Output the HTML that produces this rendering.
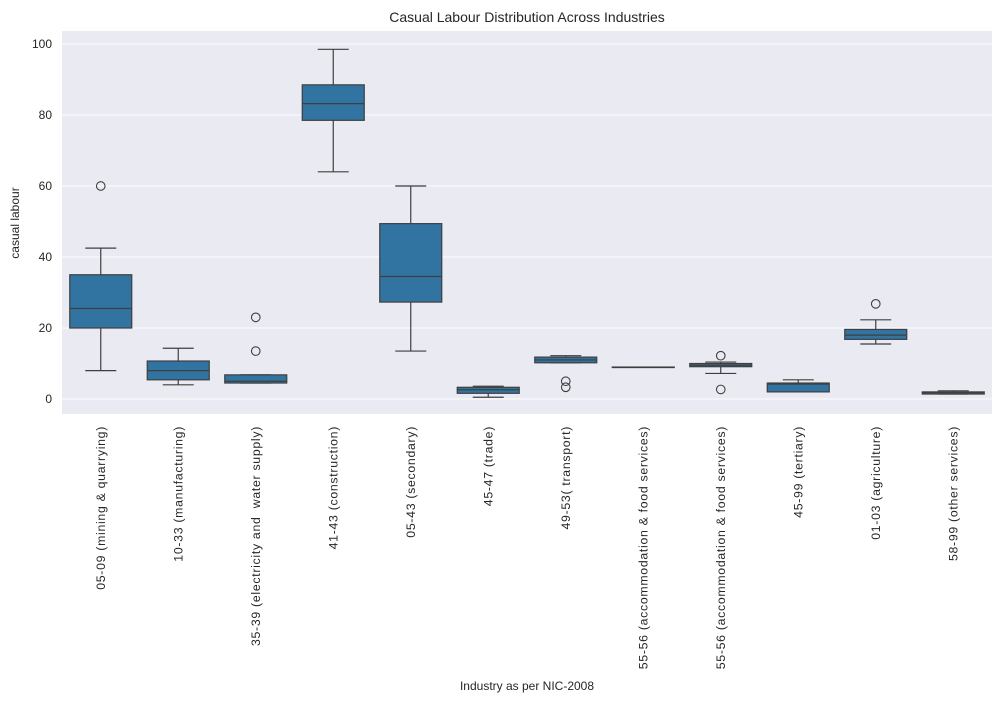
<!DOCTYPE html>
<html><head><meta charset="utf-8"><style>
body{margin:0;background:#fff;font-family:"Liberation Sans",sans-serif}
svg text{font-family:"Liberation Sans",sans-serif;fill:#262626;white-space:pre}
</style></head><body>
<svg id="chart" width="1000" height="702" xmlns="http://www.w3.org/2000/svg">
<rect x="0" y="0" width="1000" height="702" fill="#fff"/>
<rect x="62" y="31" width="930" height="383" fill="#eaeaf2"/>
<g id="grid"></g><g id="marks"></g><g id="labels"></g>
<text x="527" y="22" text-anchor="middle" font-size="14">Casual Labour Distribution Across Industries</text>
<text transform="translate(19,223) rotate(-90)" text-anchor="middle" font-size="12">casual labour</text>
<text x="527" y="690" text-anchor="middle" font-size="12">Industry as per NIC-2008</text>
</svg>
<script>
const categories=["05-09 (mining & quarrying)","10-33 (manufacturing)","35-39 (electricity and  water supply)","41-43 (construction)","05-43 (secondary)","45-47 (trade)","49-53( transport)","55-56 (accommodation & food services)","55-56 (accommodation & food services)","45-99 (tertiary)","01-03 (agriculture)","58-99 (other services)"];
const whiskerLow=[8,4,4.5,64,13.5,0.5,10.2,9,7.2,2,15.5,1.4];
const q1=[20,5.4,4.5,78.5,27.3,1.6,10.2,9,9.1,2,16.8,1.4];
const median=[25.5,8,5,83.2,34.5,2.6,11,9,9.5,4.2,18,1.8];
const q3=[35,10.7,6.8,88.5,49.4,3.3,11.8,9,10,4.5,19.6,2];
const whiskerHigh=[42.5,14.3,6.8,98.5,60,3.6,12.2,9,10.4,5.4,22.3,2.3];
const outliers=[[60],[],[23,13.5],[],[],[],[5,3.3],[],[12.2,2.7],[],[26.8],[]];
const yTicks=[0,20,40,60,80,100];
const ns="http://www.w3.org/2000/svg";
const x0=62,pw=930,step=pw/categories.length;
const y=v=>399-v*3.55;
const xc=i=>x0+step*(i+0.5);
function mk(t,a,p){const e=document.createElementNS(ns,t);for(const k in a)e.setAttribute(k,a[k]);p.appendChild(e);return e;}
const grid=document.getElementById('grid'),marks=document.getElementById('marks'),labels=document.getElementById('labels');
yTicks.forEach(v=>{
 const l=mk('line',{x1:62,x2:992,y1:y(v),y2:y(v),stroke:'#fff','stroke-width':1},grid);
 
 
 const t=mk('text',{x:52,y:y(v)+4,'text-anchor':'end','font-size':12},labels);
 t.textContent=v;
 
 
});
const S='#3f3f3f';
categories.forEach((c,i)=>{
 const cx=xc(i),bw=step*0.8,cw=bw/2;
 const g=mk('g',{},marks);
 
 
 mk('line',{x1:cx,x2:cx,y1:y(q3[i]),y2:y(whiskerHigh[i]),stroke:S,'stroke-width':1.2},g);
 mk('line',{x1:cx,x2:cx,y1:y(q1[i]),y2:y(whiskerLow[i]),stroke:S,'stroke-width':1.2},g);
 mk('line',{x1:cx-cw/2,x2:cx+cw/2,y1:y(whiskerHigh[i]),y2:y(whiskerHigh[i]),stroke:S,'stroke-width':1.2},g);
 mk('line',{x1:cx-cw/2,x2:cx+cw/2,y1:y(whiskerLow[i]),y2:y(whiskerLow[i]),stroke:S,'stroke-width':1.2},g);
 mk('rect',{x:cx-bw/2,y:y(q3[i]),width:bw,height:Math.max(0.5,y(q1[i])-y(q3[i])),fill:'#3274a1',stroke:S,'stroke-width':1.2},g);
 mk('line',{x1:cx-bw/2,x2:cx+bw/2,y1:y(median[i]),y2:y(median[i]),stroke:S,'stroke-width':1.2},g);
 outliers[i].forEach(v=>{
  const o=mk('circle',{cx:cx,cy:y(v),r:4.3,fill:'none',stroke:S,'stroke-width':1.1},g);
  
  
 });
 const t=mk('text',{transform:`translate(${cx+4},426) rotate(-90)`,'text-anchor':'end','font-size':12.3,'letter-spacing':0.7},labels);
 t.textContent=c;
 
 
});
</script>
</body></html>
